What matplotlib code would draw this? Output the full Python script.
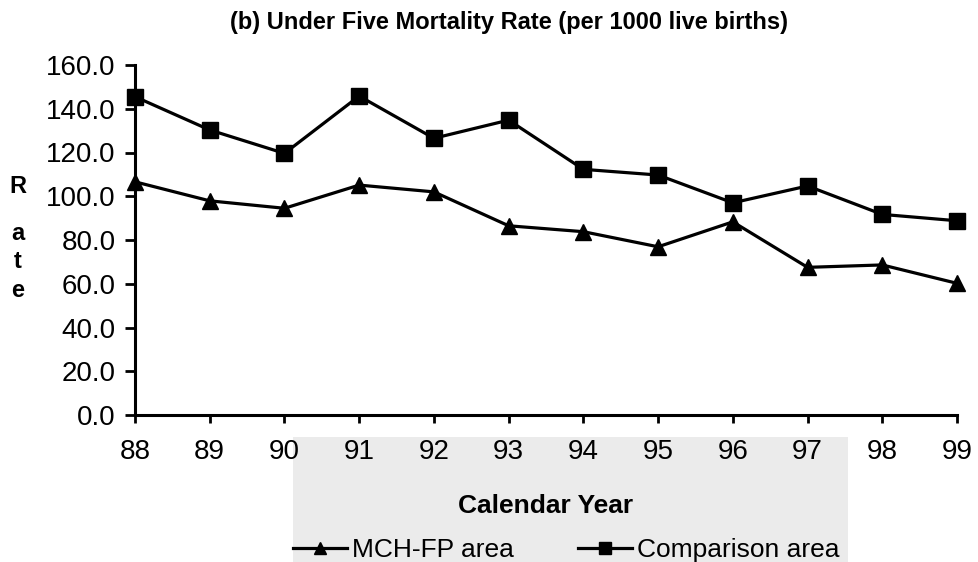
import matplotlib
matplotlib.use("Agg")
import matplotlib.pyplot as plt
from matplotlib.patches import Rectangle

years = [88, 89, 90, 91, 92, 93, 94, 95, 96, 97, 98, 99]
mch_fp = [106.6, 97.9, 94.5, 105.1, 102.0, 86.5, 83.8, 76.9, 88.3, 67.5, 68.6, 60.2]
comparison = [145.5, 130.3, 119.6, 145.8, 126.5, 134.8, 112.3, 109.7, 97.0, 104.7, 91.7, 88.8]
yticks = [0, 20, 40, 60, 80, 100, 120, 140, 160]

plt.rcParams['font.family'] = ['Liberation Sans', 'DejaVu Sans']

W, H = 979, 562
fig = plt.figure(figsize=(W / 100, H / 100), dpi=100)
fig.patch.set_facecolor('white')
# light grey scanned band behind the axis title and legend
fig.patches.append(Rectangle((293 / W, 0), (848 - 293) / W, (H - 437) / H,
                             transform=fig.transFigure, facecolor='#ebebeb',
                             edgecolor='none', zorder=0))

ax = fig.add_axes([135 / W, 1 - 415 / H, (957 - 135) / W, (415 - 65) / H])
ax.set_zorder(1)
ax.set_facecolor('none')

l1, = ax.plot(years, mch_fp, color='black', lw=2.3, marker='^', markersize=12,
              label='MCH-FP area', clip_on=False, zorder=3)
l2, = ax.plot(years, comparison, color='black', lw=2.3, marker='s', markersize=12,
              label='Comparison area', clip_on=False, zorder=3)

ax.set_xlim(88, 99)
ax.set_ylim(0, 160)
ax.set_xticks(years)
ax.set_xticklabels([str(y) for y in years])
ax.set_yticks(yticks)
ax.set_yticklabels([f"{v:.1f}" for v in yticks])

for s in ['top', 'right']:
    ax.spines[s].set_visible(False)
for s in ['left', 'bottom']:
    ax.spines[s].set_linewidth(2.2)
    ax.spines[s].set_color('black')

ax.tick_params(axis='both', direction='out', width=2, colors='black', labelsize=20)
ax.tick_params(axis='y', length=7, pad=7)
ax.tick_params(axis='x', length=6, pad=11)

fig.text(509 / W, 1 - 29 / H, '(b) Under Five Mortality Rate (per 1000 live births)',
         ha='center', va='baseline', fontsize=17, fontweight='bold')

for letter, yb in zip(['R', 'a', 't', 'e'], [193, 240, 268, 297]):
    fig.text(18 / W, 1 - yb / H, letter, ha='center', va='baseline',
             fontsize=17, fontweight='bold')

fig.text(546 / W, 1 - 513 / H, 'Calendar Year', ha='center', va='baseline',
         fontsize=19, fontweight='bold')

fig.legend(handles=[l1, l2], loc='center left', bbox_to_anchor=(293 / W, 1 - 550 / H),
           ncol=2, frameon=False, fontsize=19, handlelength=2.05, handletextpad=0.2,
           columnspacing=2.4, markerscale=0.7, borderpad=0, borderaxespad=0)

fig.savefig('out.png', dpi=100, facecolor='white')
